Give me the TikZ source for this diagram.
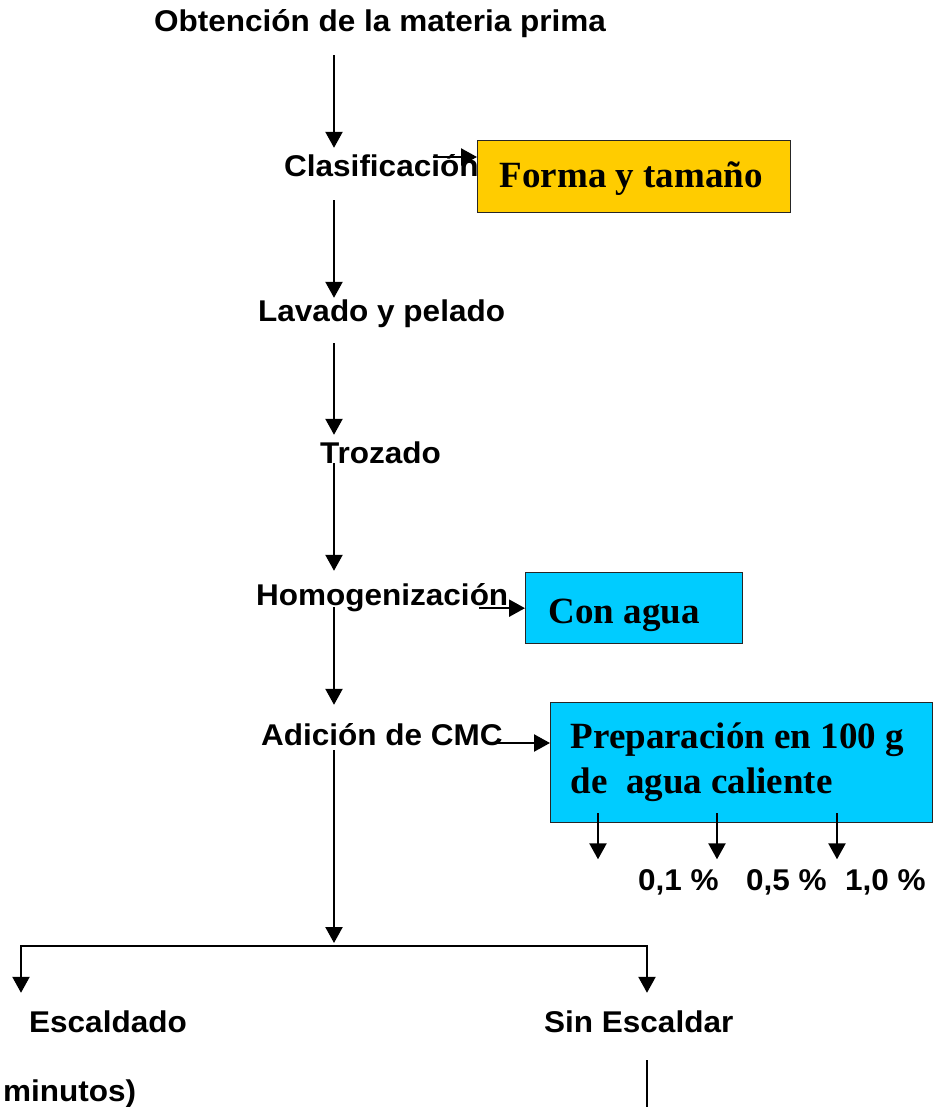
\documentclass[tikz,border=0pt]{standalone}
\usepackage{fontspec}
\setmainfont{Liberation Serif}
\setsansfont{Liberation Sans}
\usetikzlibrary{arrows.meta,calc}
\definecolor{boxyellow}{HTML}{FFCC00}
\definecolor{boxcyan}{HTML}{00CCFF}
\begin{document}
\begin{tikzpicture}[x=1pt,y=-1pt,
  lbl/.style={font=\fontsize{30}{36}\selectfont\sffamily\bfseries, inner sep=0pt,
    text height=22pt, text depth=6pt, xscale=1.05, anchor=base west},
  box/.style={draw=black!85, line width=1.3pt, font=\fontsize{37}{45}\selectfont\rmfamily\bfseries,
    anchor=north west, align=left, inner sep=0pt},
  arr/.style={line width=2.3pt, -{Triangle[length=16pt,width=17pt]}},
  ln/.style={line width=2.3pt}]
\useasboundingbox (0,0) rectangle (933,1107);

\coordinate (spine) at (334,0);
\coordinate (fork) at (334,946);
\coordinate (forkL) at (21,946);
\coordinate (forkR) at (647,946);
\coordinate (bottom) at (647,1107);

\node[lbl] (obt) at (154,32) {Obtención de la materia prima};
\node[lbl] (clas) at (284,177) {Clasificación};
\node[lbl] (lav) at (258,321) {Lavado y pelado};
\node[lbl] (troz) at (320,463) {Trozado};
\node[lbl] (homo) at (256,605) {Homogenización};
\node[lbl] (adic) at (261,745) {Adición de CMC};
\node[lbl] (p1) at (638,890) {0,1 \%};
\node[lbl] (p2) at (746,890) {0,5 \%};
\node[lbl] (p3) at (845,890) {1,0 \%};
\node[lbl] (esc) at (29,1032) {Escaldado};
\node[lbl] (sin) at (544,1032) {Sin Escaldar};
\node[lbl, anchor=base west, text depth=3pt] (minu) at (3,1101) {minutos)};

\node[box, fill=boxyellow, minimum width=313pt, minimum height=72pt,
  text height=30pt, text depth=8pt] (forma) at (477,140)
  {\hspace*{22pt}\makebox[291pt][l]{Forma y tamaño}};
\node[box, fill=boxcyan, minimum width=217pt, minimum height=71pt,
  text height=38pt, text depth=7pt] (agua) at (525,572)
  {\hspace*{23pt}\makebox[194pt][l]{Con agua}};
\node[box, fill=boxcyan, minimum width=382pt, minimum height=120pt] (prep) at (550,702)
  {\hspace*{20pt}\makebox[362pt][l]{Preparación en 100 g}\\
   \hspace*{20pt}\makebox[362pt][l]{de\ \ agua caliente}};

% main spine
\draw[arr, shorten <=17pt, shorten >=7pt] (spine |- obt.south) -- (spine |- clas.north);
\draw[arr, shorten <=17pt, shorten >=1pt] (spine |- clas.south) -- (spine |- lav.north);
\draw[arr, shorten <=16pt, shorten >=6pt] (spine |- lav.south) -- (spine |- troz.north);
\draw[arr, shorten <=-6pt, shorten >=12pt] (spine |- troz.south) -- (spine |- homo.north);
\draw[arr, shorten <=-4pt, shorten >=18pt] (spine |- homo.south) -- (spine |- adic.north);
\draw[arr, shorten <=-1pt, shorten >=3pt] (spine |- adic.south) -- (fork);

% branches
\draw[ln, line cap=rect] (forkL) -- (forkR);
\draw[arr, shorten >=17pt] (forkL) -- (forkL |- esc.north);
\draw[arr, shorten >=17pt] (forkR) -- (forkR |- sin.north);
\draw[ln, shorten <=22pt] (forkR |- sin.south) -- (bottom);

% side arrows
\draw[arr] ($(clas.base east)+(-46,-20)$) -- ($(forma.north west)+(0,17)$);
\draw[arr] ({$(homo.base east)+(-29,0)$} |- agua.west) -- (agua.west);
\draw[arr] ($(adic.base east)+(-7,-2)$) -- ($(prep.north west)+(0,41)$);
\foreach \dx in {48,167,287}
  \draw[arr] ($(prep.south west)+(\dx,-10)$) -- ++(0,46);
\end{tikzpicture}
\end{document}
